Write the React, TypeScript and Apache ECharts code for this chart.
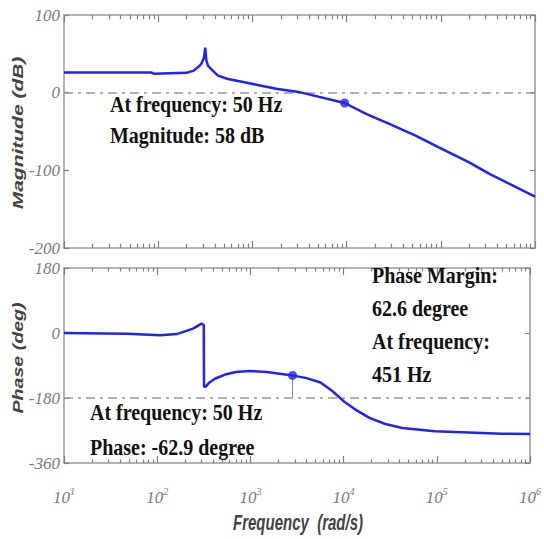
import React, { useEffect, useRef } from "react";
import * as echarts from "echarts";

const magFreq = [10, 84, 90, 199, 234, 264, 287, 306, 316, 324, 337, 379, 431, 551, 822, 1241, 1850, 3236, 9530, 16100, 28400, 54000, 95300, 122000, 200000, 328000, 585000, 1000000];
const magDb = [26, 26, 24.5, 25.5, 28, 32.6, 37, 45, 58, 42, 34.7, 28.3, 21.9, 17.6, 13.3, 9, 4.8, 0.4, -13.3, -27.4, -40.3, -55.3, -70.4, -76.8, -89.7, -104.6, -119.7, -133.8];

const phaseFreq = [10, 47, 108, 162, 242, 299, 316, 318, 330, 360, 420, 551, 700, 975, 1500, 2834, 4000, 5660, 7500, 9930, 13000, 18930, 28000, 42600, 95300, 497000, 1000000];
const phaseDeg = [0, -2, -6, -3, 12, 26, 22, -148, -149, -138, -126, -114, -108, -105, -108, -117.4, -125, -137, -160, -188, -210, -235, -252, -263, -272, -279, -280];

const magMarker = [9530, -13.3];
const phaseMarker = [2834, -117.4];
const phaseRef = -180;
const magRef = 0;

const minorFreqs = [
  20, 30, 40, 50, 60, 70, 80, 90,
  200, 300, 400, 500, 600, 700, 800, 900,
  2000, 3000, 4000, 5000, 6000, 7000, 8000, 9000,
  20000, 30000, 40000, 50000, 60000, 70000, 80000, 90000,
  200000, 300000, 400000, 500000, 600000, 700000, 800000, 900000,
];

const magAxis = { min: -200, max: 100, interval: 100 };
const phaseAxis = { min: -360, max: 180, interval: 180 };

const magNote = ["At frequency: 50 Hz", "Magnitude: 58 dB"];
const phaseNote = ["At frequency: 50 Hz", "Phase: -62.9 degree"];
const marginNote = ["Phase Margin:", "62.6 degree", "At frequency:", "451 Hz"];

const BLUE = "#2222f5";
const FRAME = "#9a9a9a";
const LABEL = "#7a7a7a";

export default function App() {
  const ref = useRef<HTMLDivElement>(null);
  useEffect(() => {
    if (!ref.current) return;
    const chart = echarts.init(ref.current, null, { renderer: "svg" });

    const minorTicks = (xi: number, yi: number, ax: any) => {
      const len = (ax.max - ax.min) * 0.018;
      const data: any[] = [];
      minorFreqs.forEach((f) => {
        data.push({ coords: [[f, ax.min], [f, ax.min + len]] });
        data.push({ coords: [[f, ax.max], [f, ax.max - len]] });
      });
      return {
        type: "lines",
        coordinateSystem: "cartesian2d",
        xAxisIndex: xi,
        yAxisIndex: yi,
        silent: true,
        z: 7,
        lineStyle: { color: "#808080", width: 1.2, opacity: 1 },
        data,
      };
    };

    const xBase = (grid: number, pos: string, labels: boolean) => ({
      type: "log",
      logBase: 10,
      gridIndex: grid,
      position: pos,
      min: 10,
      max: 1000000,
      splitNumber: 5,
      axisLine: { show: true, onZero: false, lineStyle: { color: FRAME, width: 1.5 } },
      axisTick: { show: true, inside: true, length: 7, lineStyle: { color: "#808080", width: 1.2 } },
      splitLine: { show: false },
      axisLabel: labels
        ? {
            show: true,
            margin: 23,
            formatter: (v: number) => `{b|10}{s|${Math.round(Math.log10(v))}}`,
            rich: {
              b: { fontFamily: "Liberation Serif", fontStyle: "italic", fontSize: 17, color: LABEL },
              s: { fontFamily: "Liberation Serif", fontStyle: "italic", fontSize: 10, color: LABEL, padding: [0, 0, 12, 0] },
            },
          }
        : { show: false },
    });

    const yBase = (grid: number, pos: string, ax: any, labels: boolean) => ({
      type: "value",
      gridIndex: grid,
      position: pos,
      min: ax.min,
      max: ax.max,
      interval: ax.interval,
      axisLine: { show: true, onZero: false, lineStyle: { color: FRAME, width: 1.5 } },
      axisTick: { show: true, inside: true, length: 5, lineStyle: { color: "#808080", width: 1.2 } },
      splitLine: { show: false },
      axisLabel: labels
        ? { show: true, margin: 4, fontFamily: "Liberation Serif", fontStyle: "italic", fontSize: 17, color: LABEL }
        : { show: false },
    });

    const refLine = (v: number) => ({
      silent: true,
      symbol: "none",
      label: { show: false },
      lineStyle: { color: "#999", type: [9, 5, 3, 5], width: 1.5 },
      data: [{ yAxis: v }],
    });

    const noteText = (lines: string[], x: number, y0: number, step: number) =>
      lines.map((t, i) => ({
        type: "text",
        x,
        y: y0 + i * step,
        scaleY: 1.12,
        style: {
          text: t,
          font: "bold 20px 'Liberation Serif'",
          fill: "#111",
          textVerticalAlign: "top",
        },
        z: 100,
      }));

    chart.setOption({
      animation: false,
      backgroundColor: "#fff",
      grid: [
        { left: 64, right: 9, top: 15, height: 233, show: false },
        { left: 64, right: 9, top: 268, height: 195, show: false },
      ],
      xAxis: [xBase(0, "bottom", false), xBase(0, "top", false), xBase(1, "bottom", true), xBase(1, "top", false)],
      yAxis: [
        yBase(0, "left", magAxis, true),
        yBase(0, "right", magAxis, false),
        yBase(1, "left", phaseAxis, true),
        yBase(1, "right", phaseAxis, false),
      ],
      series: [
        {
          type: "line",
          xAxisIndex: 0,
          yAxisIndex: 0,
          showSymbol: false,
          data: magFreq.map((f, i) => [f, magDb[i]]),
          lineStyle: { color: BLUE, width: 2.5 },
          z: 5,
          markLine: refLine(magRef),
        },
        {
          type: "scatter",
          xAxisIndex: 0,
          yAxisIndex: 0,
          symbol: "circle",
          symbolSize: 9,
          itemStyle: { color: BLUE },
          data: [magMarker],
          z: 6,
        },
        {
          type: "line",
          xAxisIndex: 2,
          yAxisIndex: 2,
          showSymbol: false,
          data: [
            [phaseMarker[0], phaseMarker[1]],
            [phaseMarker[0], phaseRef],
          ],
          lineStyle: { color: "#888", width: 1 },
          z: 4,
        },
        {
          type: "line",
          xAxisIndex: 2,
          yAxisIndex: 2,
          showSymbol: false,
          data: phaseFreq.map((f, i) => [f, phaseDeg[i]]),
          lineStyle: { color: BLUE, width: 2.5 },
          z: 5,
          markLine: refLine(phaseRef),
        },
        {
          type: "scatter",
          xAxisIndex: 2,
          yAxisIndex: 2,
          symbol: "circle",
          symbolSize: 9,
          itemStyle: { color: BLUE },
          data: [phaseMarker],
          z: 6,
        },
        minorTicks(0, 0, magAxis),
        minorTicks(2, 2, phaseAxis),
      ],
      graphic: [
        ...noteText(magNote, 110, 93, 31),
        ...noteText(phaseNote, 90, 401, 35),
        ...noteText(marginNote, 372, 264, 33),
        {
          type: "text",
          x: 18,
          y: 133,
          rotation: Math.PI / 2,
          scaleX: 1.5,
          style: {
            text: "Magnitude (dB)",
            font: "italic bold 14px 'Liberation Sans'",
            fill: "#444",
            textAlign: "center",
            textVerticalAlign: "middle",
          },
        },
        {
          type: "text",
          x: 18,
          y: 358,
          rotation: Math.PI / 2,
          scaleX: 1.4,
          style: {
            text: "Phase (deg)",
            font: "italic bold 14px 'Liberation Sans'",
            fill: "#444",
            textAlign: "center",
            textVerticalAlign: "middle",
          },
        },
        {
          type: "text",
          x: 298,
          y: 522,
          scaleY: 1.45,
          style: {
            text: "Frequency  (rad/s)",
            font: "italic bold 15px 'Liberation Sans'",
            fill: "#444",
            textAlign: "center",
            textVerticalAlign: "middle",
          },
        },
      ],
    });
    return () => chart.dispose();
  }, []);
  return <div ref={ref} style={{ position: "fixed", left: 0, top: 0, width: 544, height: 539 }} />;
}
